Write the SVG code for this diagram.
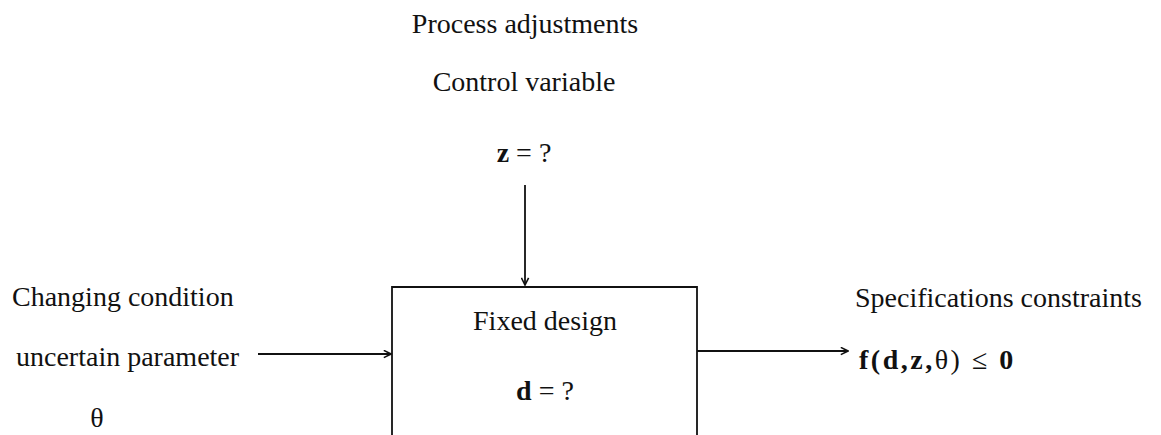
<svg xmlns="http://www.w3.org/2000/svg" width="1161" height="435" viewBox="0 0 1161 435">
  <style>
    .t { font-family: "Liberation Serif", "Times New Roman", serif; font-size: 28px; fill: #111; }
    .b { font-weight: bold; }
    .r { font-weight: normal; }
    .ln { stroke: #111; stroke-width: 1.8; fill: none; }
  </style>
  <defs>
    <marker id="chev" viewBox="0 0 10 10" refX="9" refY="5" markerWidth="9" markerHeight="9" markerUnits="userSpaceOnUse" orient="auto">
      <path d="M1,1 L9,5 L1,9" fill="none" stroke="#111" stroke-width="1.8"/>
    </marker>
  </defs>
  <rect width="1161" height="435" fill="#fff"/>

  <!-- top input: control variable -->
  <g id="control">
    <text class="t" x="525" y="33" text-anchor="middle">Process adjustments</text>
    <text class="t" x="524" y="91" text-anchor="middle">Control variable</text>
    <text class="t" x="524" y="162" text-anchor="middle"><tspan class="b">z</tspan> = ?</text>
  </g>

  <!-- left input: uncertain parameter -->
  <g id="uncertain">
    <text class="t" x="12" y="306">Changing condition</text>
    <text class="t" x="16" y="366">uncertain parameter</text>
    <text class="t" x="97" y="427" text-anchor="middle">θ</text>
  </g>

  <!-- central block: fixed design -->
  <g id="design">
    <path class="ln" d="M392,436 V287 H697 V436"/>
    <text class="t" x="545" y="330" text-anchor="middle">Fixed design</text>
    <text class="t" x="545" y="400" text-anchor="middle"><tspan class="b">d</tspan> = ?</text>
  </g>

  <!-- right output: constraints -->
  <g id="constraints">
    <text class="t" x="855" y="307">Specifications constraints</text>
    <text class="t b" x="859" y="369" letter-spacing="2.5">f(d,z,<tspan class="r">θ)</tspan> <tspan class="r">≤</tspan> 0</text>
  </g>

  <g id="connectors">
    <line class="ln" x1="525" y1="185" x2="525" y2="285" marker-end="url(#chev)"/>
    <line class="ln" x1="258" y1="354" x2="391" y2="354" marker-end="url(#chev)"/>
    <line class="ln" x1="697" y1="351" x2="848" y2="351" marker-end="url(#chev)"/>
  </g>
</svg>
